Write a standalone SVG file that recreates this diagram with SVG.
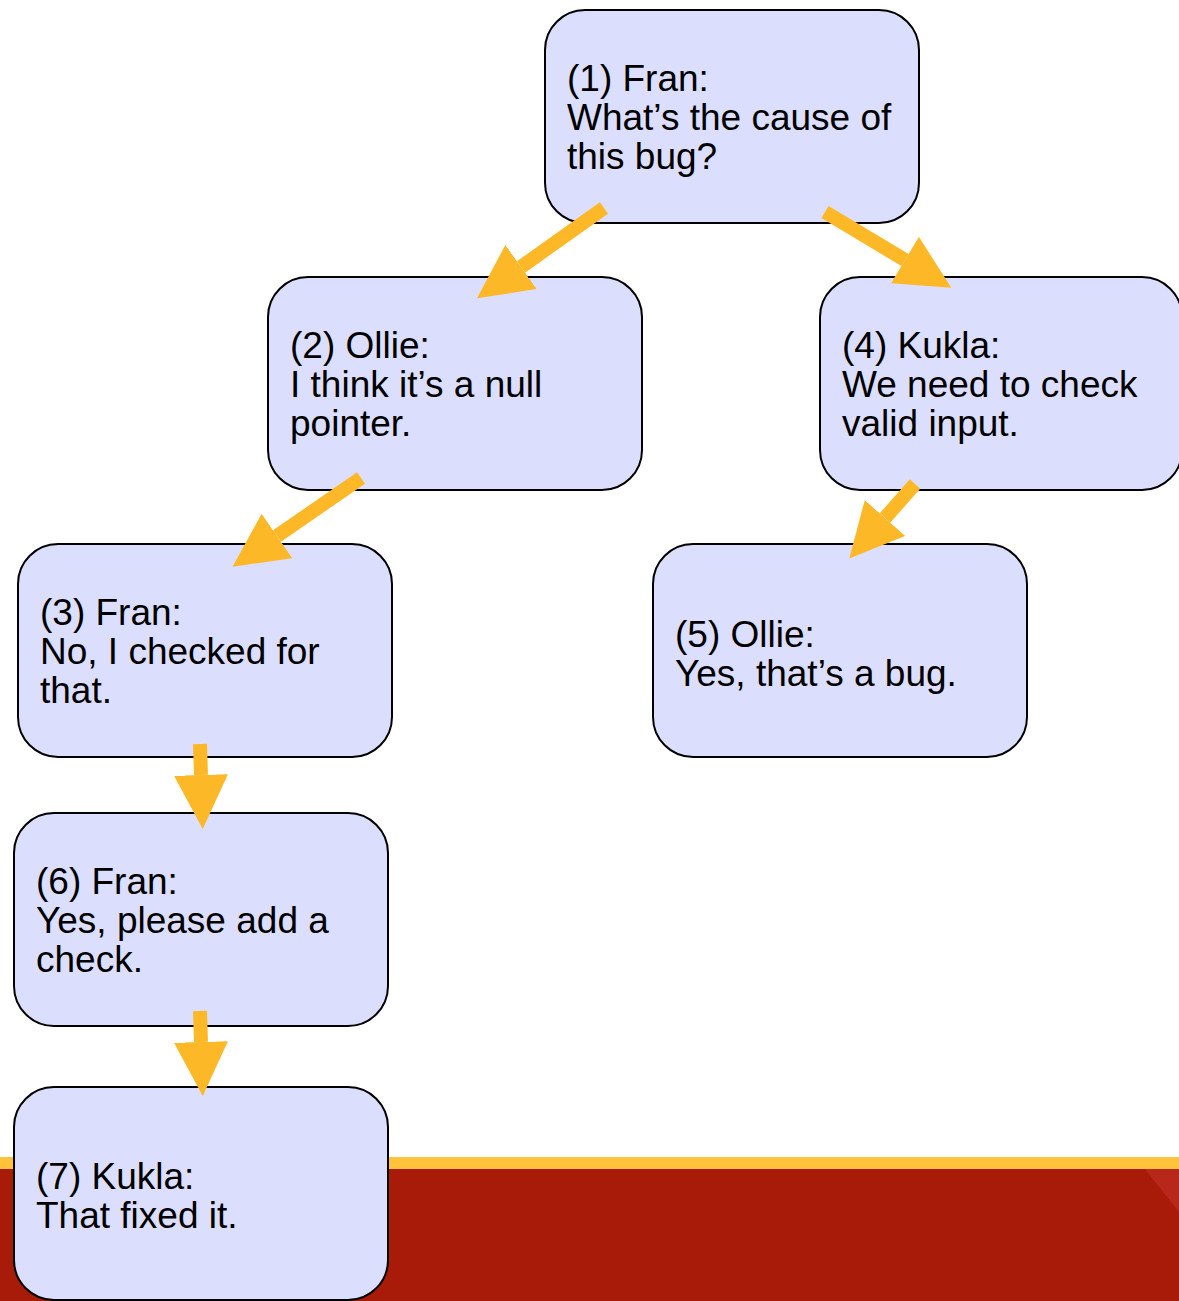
<svg xmlns="http://www.w3.org/2000/svg" width="1179" height="1301" viewBox="0 0 1179 1301">
  <style>
    .node rect { fill: #DCDEFD; stroke: #000; stroke-width: 2; }
    .node text { font-family: "Liberation Sans", Arial, sans-serif; font-size: 37px; fill: #000; }
    .edge { stroke: #FDB827; stroke-width: 14; fill: none; marker-end: url(#head); }
  </style>
  <defs>
    <marker id="head" markerUnits="userSpaceOnUse" viewBox="0 0 54 54" refX="0" refY="27" markerWidth="54" markerHeight="54" orient="auto">
      <path d="M0,0 L54,27 L0,54 Z" fill="#FDB827"/>
    </marker>
  </defs>

  <!-- page background and footer band -->
  <rect x="0" y="0" width="1179" height="1301" fill="#FFFFFF"/>
  <rect x="0" y="1157" width="1179" height="12" fill="#FFC23B"/>
  <rect x="0" y="1169" width="1179" height="132" fill="#A81B08"/>
  <polygon points="1145,1169 1179,1169 1179,1212" fill="#B8281A"/>

  <g id="n1" class="node">
    <rect x="545" y="10" width="374" height="213" rx="40" ry="40"/>
    <text x="567" y="91">(1) Fran:</text>
    <text x="567" y="130">What’s the cause of</text>
    <text x="567" y="169">this bug?</text>
  </g>

  <g id="n2" class="node">
    <rect x="268" y="277" width="374" height="213" rx="40" ry="40"/>
    <text x="290" y="358">(2) Ollie:</text>
    <text x="290" y="397">I think it’s a null</text>
    <text x="290" y="436">pointer.</text>
  </g>

  <g id="n4" class="node">
    <rect x="820" y="277" width="362" height="213" rx="40" ry="40"/>
    <text x="842" y="358">(4) Kukla:</text>
    <text x="842" y="397">We need to check</text>
    <text x="842" y="436">valid input.</text>
  </g>

  <g id="n3" class="node">
    <rect x="18" y="544" width="374" height="213" rx="40" ry="40"/>
    <text x="40" y="625">(3) Fran:</text>
    <text x="40" y="664">No, I checked for</text>
    <text x="40" y="703">that.</text>
  </g>

  <g id="n5" class="node">
    <rect x="653" y="544" width="374" height="213" rx="40" ry="40"/>
    <text x="675" y="647">(5) Ollie:</text>
    <text x="675" y="686">Yes, that’s a bug.</text>
  </g>

  <g id="n6" class="node">
    <rect x="14" y="813" width="374" height="213" rx="40" ry="40"/>
    <text x="36" y="894">(6) Fran:</text>
    <text x="36" y="933">Yes, please add a</text>
    <text x="36" y="972">check.</text>
  </g>

  <g id="n7" class="node">
    <rect x="14" y="1087" width="374" height="213" rx="40" ry="40"/>
    <text x="36" y="1189">(7) Kukla:</text>
    <text x="36" y="1228">That fixed it.</text>
  </g>

  <!-- connectors, drawn over the boxes -->
  <g id="connectors">
    <line class="edge" x1="604" y1="208" x2="521" y2="267"/>
    <line class="edge" x1="825" y1="212" x2="905" y2="260"/>
    <line class="edge" x1="361" y1="478" x2="277" y2="536"/>
    <line class="edge" x1="915" y1="484" x2="885" y2="518"/>
    <line class="edge" x1="200" y1="744" x2="201" y2="775"/>
    <line class="edge" x1="200" y1="1011" x2="201" y2="1042"/>
  </g>
</svg>
